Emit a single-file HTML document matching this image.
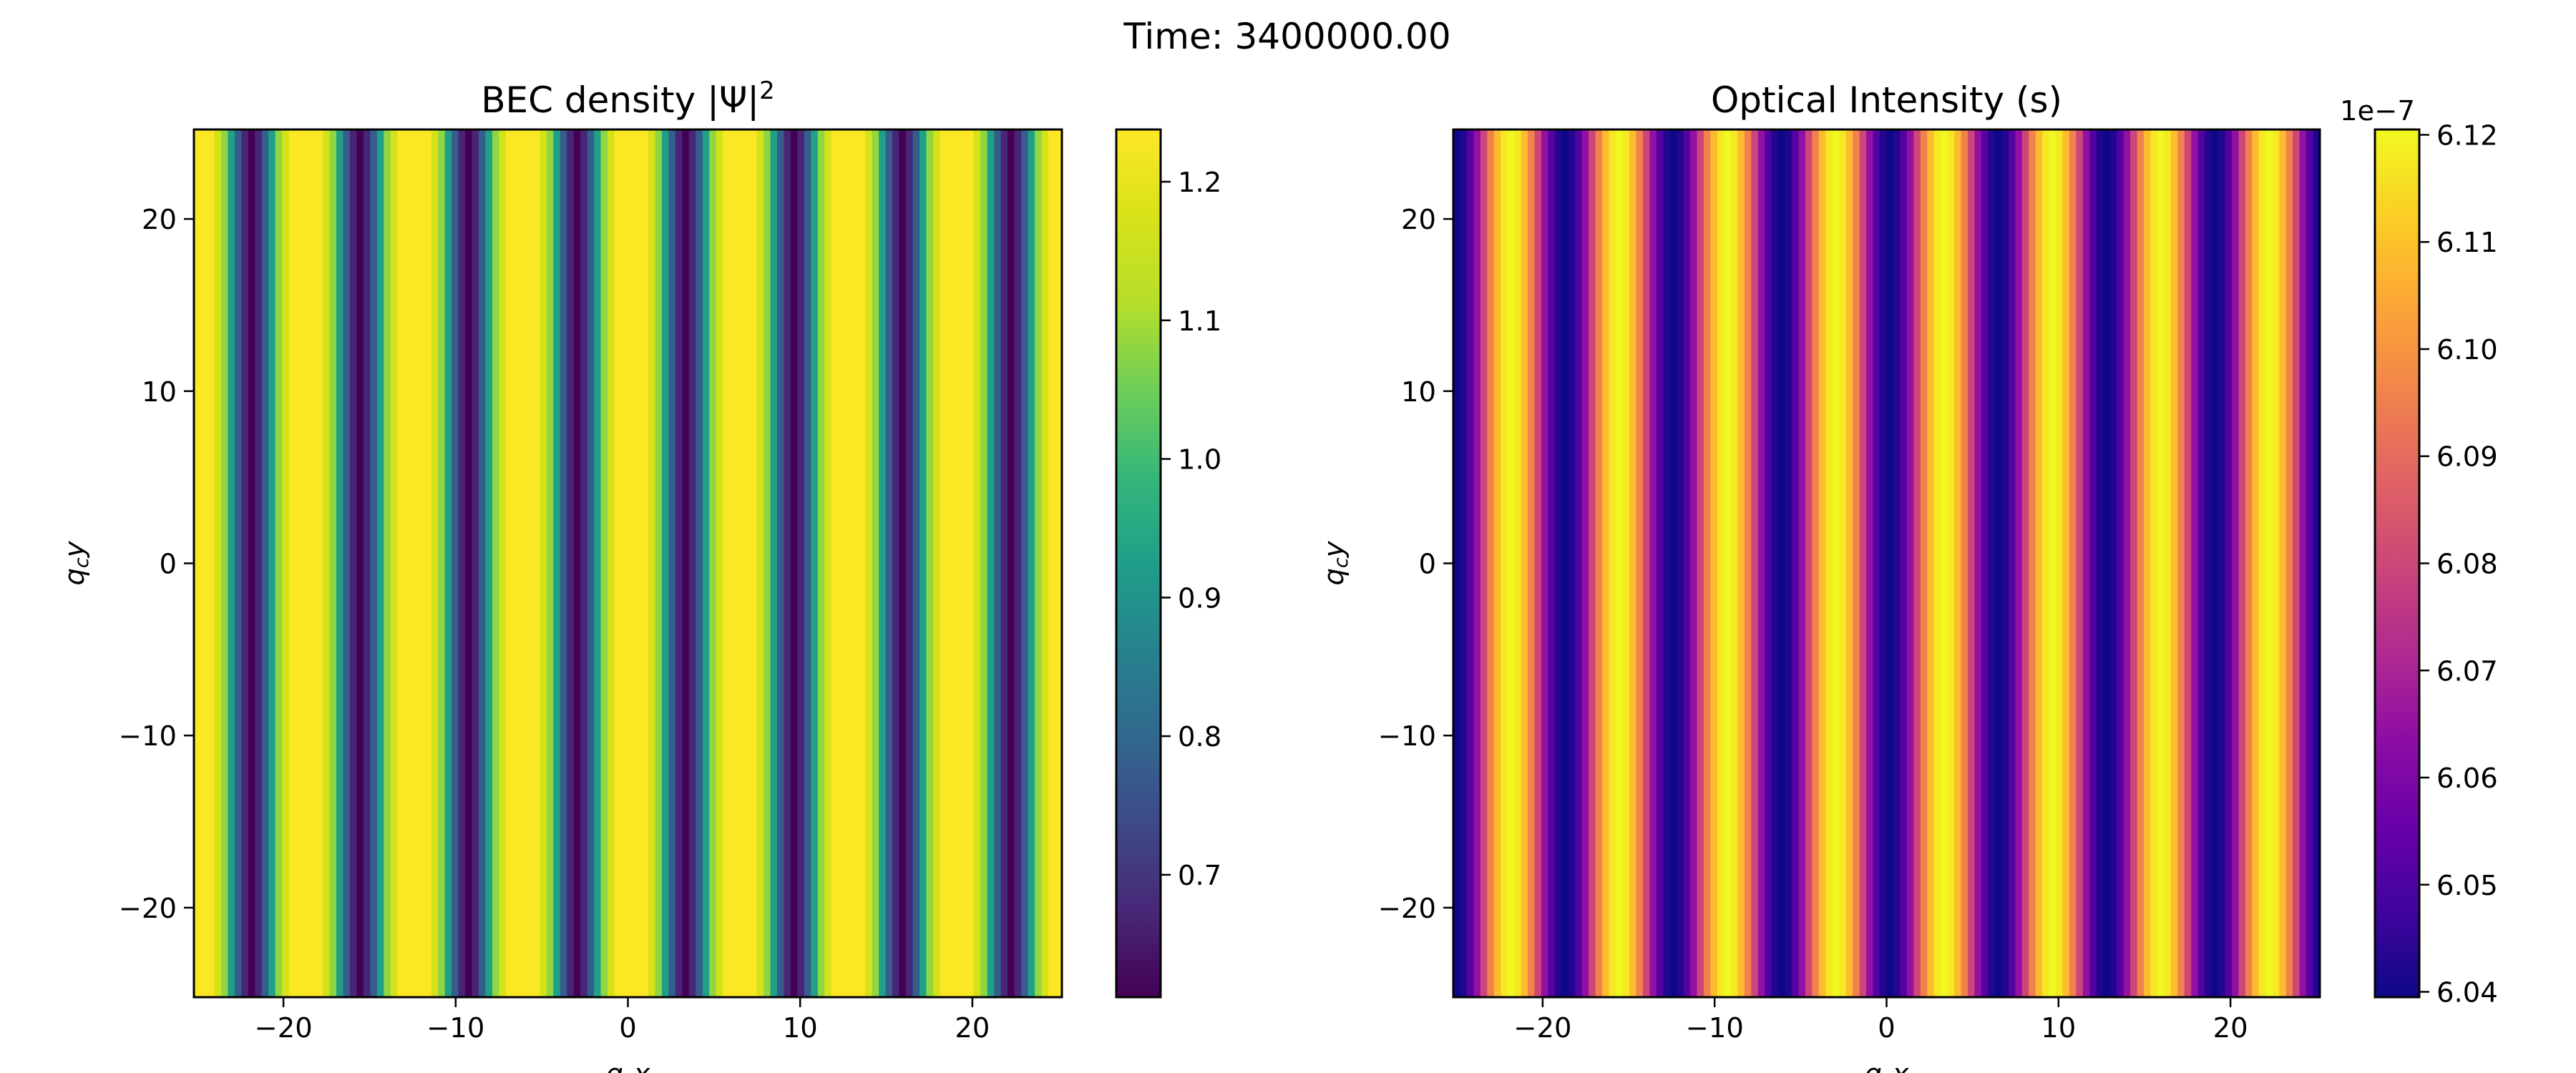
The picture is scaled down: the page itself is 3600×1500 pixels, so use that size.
<!DOCTYPE html>
<html><head><meta charset="utf-8"><style>
html,body{margin:0;padding:0;background:#fff;}
svg{display:block;font-family:"DejaVu Sans","Liberation Sans",sans-serif;}
</style></head><body>
<svg id="fig" width="3600" height="1500" viewBox="0 0 3600 1500" xmlns="http://www.w3.org/2000/svg">
<defs>
<linearGradient id="gv" x1="0" y1="1" x2="0" y2="0">
<stop offset="0" stop-color="#440154"/><stop offset="0.1" stop-color="#482878"/><stop offset="0.2" stop-color="#3e4989"/><stop offset="0.3" stop-color="#31688e"/><stop offset="0.4" stop-color="#26828e"/><stop offset="0.5" stop-color="#1f9e89"/><stop offset="0.6" stop-color="#35b779"/><stop offset="0.7" stop-color="#6ece58"/><stop offset="0.8" stop-color="#b5de2b"/><stop offset="0.9" stop-color="#d8e219"/><stop offset="1" stop-color="#fde725"/>
</linearGradient>
<linearGradient id="gp" x1="0" y1="1" x2="0" y2="0">
<stop offset="0" stop-color="#0d0887"/><stop offset="0.1" stop-color="#41049d"/><stop offset="0.2" stop-color="#6a00a8"/><stop offset="0.3" stop-color="#8f0da4"/><stop offset="0.4" stop-color="#b12a90"/><stop offset="0.5" stop-color="#cc4778"/><stop offset="0.6" stop-color="#e16462"/><stop offset="0.7" stop-color="#f2844b"/><stop offset="0.8" stop-color="#fca636"/><stop offset="0.9" stop-color="#fcce25"/><stop offset="1" stop-color="#f0f921"/>
</linearGradient>
</defs>
<text x="1799" y="68" font-size="50" text-anchor="middle">Time: 3400000.00</text>
<g id="left"></g>
<g id="right"></g>
</svg>
<script>
// column values (constant along y), 128 columns at x = linspace(-25,25,128)
const becDensity = [
1.235,1.235,1.235,1.17,1.08,0.93,0.78,0.67,0.61,0.67,0.78,0.93,1.08,1.17,1.235,1.235,
1.235,1.235,1.235,1.17,1.08,0.93,0.78,0.67,0.61,0.67,0.78,0.93,1.08,1.17,1.235,1.235,
1.235,1.235,1.235,1.17,1.08,0.93,0.78,0.67,0.61,0.67,0.78,0.93,1.08,1.17,1.235,1.235,
1.235,1.235,1.235,1.17,1.08,0.93,0.78,0.67,0.61,0.67,0.78,0.93,1.08,1.17,1.235,1.235,
1.235,1.235,1.235,1.17,1.08,0.93,0.78,0.67,0.61,0.67,0.78,0.93,1.08,1.17,1.235,1.235,
1.235,1.235,1.235,1.17,1.08,0.93,0.78,0.67,0.61,0.67,0.78,0.93,1.08,1.17,1.235,1.235,
1.235,1.235,1.235,1.17,1.08,0.93,0.78,0.67,0.61,0.67,0.78,0.93,1.08,1.17,1.235,1.235,
1.235,1.235,1.235,1.17,1.08,0.93,0.78,0.67,0.61,0.67,0.78,0.93,1.08,1.17,1.235,1.235];
const intensity = [
6.0395,6.0426,6.0513,6.0645,6.0800,6.0955,6.1087,6.1174,6.1205,6.1174,6.1087,6.0955,6.0800,6.0645,6.0513,6.0426,
6.0395,6.0426,6.0513,6.0645,6.0800,6.0955,6.1087,6.1174,6.1205,6.1174,6.1087,6.0955,6.0800,6.0645,6.0513,6.0426,
6.0395,6.0426,6.0513,6.0645,6.0800,6.0955,6.1087,6.1174,6.1205,6.1174,6.1087,6.0955,6.0800,6.0645,6.0513,6.0426,
6.0395,6.0426,6.0513,6.0645,6.0800,6.0955,6.1087,6.1174,6.1205,6.1174,6.1087,6.0955,6.0800,6.0645,6.0513,6.0426,
6.0395,6.0426,6.0513,6.0645,6.0800,6.0955,6.1087,6.1174,6.1205,6.1174,6.1087,6.0955,6.0800,6.0645,6.0513,6.0426,
6.0395,6.0426,6.0513,6.0645,6.0800,6.0955,6.1087,6.1174,6.1205,6.1174,6.1087,6.0955,6.0800,6.0645,6.0513,6.0426,
6.0395,6.0426,6.0513,6.0645,6.0800,6.0955,6.1087,6.1174,6.1205,6.1174,6.1087,6.0955,6.0800,6.0645,6.0513,6.0426,
6.0395,6.0426,6.0513,6.0645,6.0800,6.0955,6.1087,6.1174,6.1205,6.1174,6.1087,6.0955,6.0800,6.0645,6.0513,6.0426];
const axisTicks = [-20,-10,0,10,20];
const axisTickLabels = ["\u221220","\u221210","0","10","20"];
const becRange = [0.6117,1.2377];
const becTicks = [0.7,0.8,0.9,1.0,1.1,1.2];
const becTickLabels = ["0.7","0.8","0.9","1.0","1.1","1.2"];
const intRange = [6.0395,6.1205];
const intTicks = [6.04,6.05,6.06,6.07,6.08,6.09,6.10,6.11,6.12];
const intTickLabels = ["6.04","6.05","6.06","6.07","6.08","6.09","6.10","6.11","6.12"];

const NS="http://www.w3.org/2000/svg";
function mk(tag,attrs,parent){const e=document.createElementNS(NS,tag);for(const k in attrs)e.setAttribute(k,attrs[k]);parent.appendChild(e);return e;}
const viridis=["#440154","#482878","#3e4989","#31688e","#26828e","#1f9e89","#35b779","#6ece58","#b5de2b","#d8e219","#fde725"];
const plasma=["#0d0887","#41049d","#6a00a8","#8f0da4","#b12a90","#cc4778","#e16462","#f2844b","#fca636","#fcce25","#f0f921"];
function hex(c){return [parseInt(c.slice(1,3),16),parseInt(c.slice(3,5),16),parseInt(c.slice(5,7),16)];}
function cmap(stops,t){t=Math.max(0,Math.min(1,t));const p=t*(stops.length-1);const i=Math.min(stops.length-2,Math.floor(p));const f=p-i;const a=hex(stops[i]),b=hex(stops[i+1]);return "rgb("+a.map((v,j)=>Math.round(v+(b[j]-v)*f)).join(",")+")";}

function panel(g,ax,vals,range,stops,grad,cbx,cticks,clabels,title,prefix){
  const xlim=[-25.197,25.197];
  const sx=v=>ax.x+(v-xlim[0])/(xlim[1]-xlim[0])*ax.w;
  const sy=v=>ax.y+ax.h-(v-xlim[0])/(xlim[1]-xlim[0])*ax.h;
  const n=vals.length, step=50/(n-1);
  const cells=mk('g',{},g);
  
  
  for(let i=0;i<n;i++){
    const xc=-25+i*step;
    const x0=sx(xc-step/2), x1=sx(xc+step/2);
    const r=mk('rect',{x:x0,y:ax.y,width:x1-x0+0.6,height:ax.h,fill:cmap(stops,(vals[i]-range[0])/(range[1]-range[0]))},cells);
    
    
  }
  const fr=mk('rect',{x:ax.x,y:ax.y,width:ax.w,height:ax.h,fill:'none',stroke:'#000','stroke-width':3},g);
  
  
  axisTicks.forEach((t,k)=>{
    const x=sx(t);
    mk('line',{x1:x,y1:ax.y+ax.h,x2:x,y2:ax.y+ax.h+14,stroke:'#000','stroke-width':2.5},g);
    const tx=mk('text',{x:x,y:ax.y+ax.h+56,'font-size':38.5,'text-anchor':'middle'},g);tx.textContent=axisTickLabels[k];
    
    
    const y=sy(t);
    mk('line',{x1:ax.x-14,y1:y,x2:ax.x,y2:y,stroke:'#000','stroke-width':2.5},g);
    const ty=mk('text',{x:ax.x-24,y:y+14,'font-size':38.5,'text-anchor':'end'},g);ty.textContent=axisTickLabels[k];
    
    
  });
  const tt=mk('text',{x:ax.x+ax.w/2,y:157,'font-size':50,'text-anchor':'middle'},g);
  tt.innerHTML=title;
  
  
  const xl=mk('text',{x:ax.x+ax.w/2,y:1514,'font-size':38.5,'text-anchor':'middle','font-style':'italic'},g);
  xl.innerHTML='q<tspan font-size="27" dy="6">c</tspan><tspan dy="-6">x</tspan>';
  
  
  const yl=mk('text',{x:0,y:0,'font-size':38.5,'text-anchor':'middle','font-style':'italic',transform:'translate('+(ax.x-154)+','+(ax.y+ax.h/2)+') rotate(-90)'},g);
  yl.innerHTML='q<tspan font-size="27" dy="6">c</tspan><tspan dy="-6">y</tspan>';
  
  
  const cb=mk('rect',{x:cbx,y:ax.y,width:62,height:ax.h,fill:'url(#'+grad+')',stroke:'#000','stroke-width':3},g);
  
  
  const cy=v=>ax.y+ax.h-(v-range[0])/(range[1]-range[0])*ax.h;
  cticks.forEach((t,k)=>{
    const y=cy(t);
    mk('line',{x1:cbx+62,y1:y,x2:cbx+76,y2:y,stroke:'#000','stroke-width':2.5},g);
    const l=mk('text',{x:cbx+86,y:y+14,'font-size':38.5},g);l.textContent=clabels[k];
    
    
  });
}
panel(document.getElementById('left'),{x:271,y:181,w:1213,h:1213},becDensity,becRange,viridis,'gv',1560,becTicks,becTickLabels,'BEC density |Ψ|<tspan font-size="34" dy="-19">2</tspan>','bec');
panel(document.getElementById('right'),{x:2031,y:181,w:1211,h:1213},intensity,intRange,plasma,'gp',3319,intTicks,intTickLabels,'Optical Intensity (s)','intensity');
const off=mk('text',{x:3270,y:168,'font-size':38.5},document.getElementById('right'));
off.textContent='1e\u22127';


</script>
</body></html>
